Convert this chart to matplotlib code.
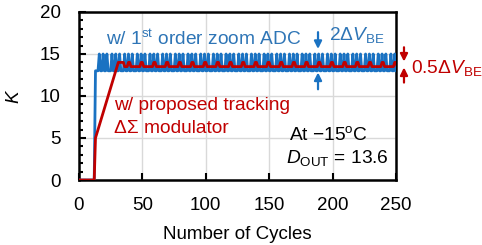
import numpy as np
import matplotlib.pyplot as plt

plt.rcParams['font.family'] = ['Liberation Sans', 'DejaVu Sans']
plt.rcParams['mathtext.fontset'] = 'custom'
plt.rcParams['mathtext.rm'] = 'Liberation Sans'
plt.rcParams['mathtext.it'] = 'Liberation Sans:italic'

# Output levels per cycle
# blue: 0 = off, L = 13, H = 15  (1st order zoom ADC, step 2*dVBE)
blue_codes = ("0000000000000" "LLL"
              "HLLHLLHLLLHLLHLLHLLLHLLHLLHLLLHLLHLLHLLLHLLHLLHLLL"
              "HLLHLLHLLLHLLHLLHLLLHLLHLLHLLLHLLHLLHLLLHLLHLLHLLL"
              "HLLHLLHLLLHLLHLLHLLLHLLHLLHLLLHLLHLLHLLLHLLHLLHLLL"
              "HLLHLLHLLLHLLHLLHLLLHLLHLLHLLLHLLHLLHLLLHLLHLLHLLL"
              "HLLHLLHLLLHLLHLLHLLLHLLHLLHLLLHLLHL")
blue_levels = {"0": 0, "L": 13, "H": 15}

# red: startup zeros, tracking ramp, then 13.5 / 14 (step 0.5*dVBE)
red_start = [0] * 13
red_ramp = [5, 5.5, 6, 6.5, 7, 7.5, 8, 8.5, 9, 9.5, 10, 10.5, 11, 11.5,
            12, 12.5, 13, 13.5, 14, 14, 14, 14, 14, 13.5, 13.5, 13.5]
red_codes = ("HHLLLLLLLLHHLLLLLLLLHHLLLLLLLLHHLLLLLLLLHHLLLLLLLL"
             "HHLLLLLLLLHHLLLLLLLLHHLLLLLLLLHHLLLLLLLLHHLLLLLLLL"
             "HHLLLLLLLLHHLLLLLLLLHHLLLLLLLLHHLLLLLLLLHHLLLLLLLL"
             "HHLLLLLLLLHHLLLLLLLLHHLLLLLLLLHHLLLLLLLLHHLLLLLLLL"
             "HHLLLLLLLLHHLLLLLLLLHH")
red_levels = {"L": 13.5, "H": 14}

blue = [blue_levels[c] for c in blue_codes]
red = red_start + red_ramp + [red_levels[c] for c in red_codes]
cyc_blue = np.arange(len(blue))
cyc_red = np.arange(len(red))

xticks = [0, 50, 100, 150, 200, 250]
yticks = [0, 5, 10, 15, 20]

BLUE = "#1A72C2"
TBLUE = "#2E75B6"
RED = "#C00000"

fig = plt.figure(figsize=(4.82, 2.45), dpi=100)
ax = fig.add_axes([79 / 482, 1 - 180 / 245, 317 / 482, 168 / 245])

ax.plot(cyc_blue, blue, color=BLUE, lw=2.0, zorder=3)
ax.plot(cyc_red, red, color=RED, lw=2.0, zorder=4)

ax.set_xlim(0, 250)
ax.set_ylim(0, 20)
ax.set_xticks(xticks)
ax.set_yticks(yticks)
ax.set_yticks(np.arange(0, 21, 1), minor=True)
ax.grid(True, which='major', color='#d9d9d9', lw=1.0, zorder=0)
ax.tick_params(which='both', direction='in', labelsize=13.5, width=1.5, color='black')
ax.tick_params(which='major', length=5)
ax.tick_params(axis='x', which='major', pad=12)
ax.tick_params(axis='y', which='major', pad=13)
ax.tick_params(which='minor', length=3)
ax.tick_params(axis='x', which='minor', bottom=False)
for s in ax.spines.values():
    s.set_linewidth(1.8)

ax.set_xlabel("Number of Cycles", fontsize=13.5, labelpad=9)
ax.set_ylabel("$K$", fontsize=13.5, labelpad=12)


def px(x, y):
    return x / 482, 1 - y / 245


fig.text(*px(106, 39), "w/ 1$^{\\mathrm{st}}$ order zoom ADC", color=TBLUE,
         fontsize=13.8, va='center', ha='left')
fig.text(*px(329, 35), "2Δ$V_{\\mathrm{BE}}$", color=TBLUE,
         fontsize=13.8, va='center', ha='left')
fig.text(*px(411, 68), "0.5Δ$V_{\\mathrm{BE}}$", color=RED,
         fontsize=13.8, va='center', ha='left')
fig.text(*px(114, 105), "w/ proposed tracking", color=RED,
         fontsize=13.8, va='center', ha='left')
fig.text(*px(114, 128), "ΔΣ modulator", color=RED,
         fontsize=13.8, va='center', ha='left')
fig.text(*px(368, 135), "At \u221215$^{\\mathrm{o}}$C", color='black',
         fontsize=13.8, va='center', ha='right')
fig.text(*px(389, 158), "$D_{\\mathrm{OUT}}$ = 13.6", color='black',
         fontsize=13.8, va='center', ha='right')

# arrows marking the output swing
arrow = dict(arrowstyle='-|>', lw=1.6, mutation_scale=11, shrinkA=0, shrinkB=0)
ax.annotate("", xy=(188.5, 15.6), xytext=(188.5, 17.6),
            arrowprops=dict(arrow, color=BLUE), annotation_clip=False)
ax.annotate("", xy=(188.5, 12.8), xytext=(188.5, 10.8),
            arrowprops=dict(arrow, color=BLUE), annotation_clip=False)
ax.annotate("", xy=(256.3, 14.1), xytext=(256.3, 15.8),
            arrowprops=dict(arrow, color=RED), annotation_clip=False)
ax.annotate("", xy=(256.3, 13.4), xytext=(256.3, 11.6),
            arrowprops=dict(arrow, color=RED), annotation_clip=False)

fig.savefig("out.png", dpi=100)
